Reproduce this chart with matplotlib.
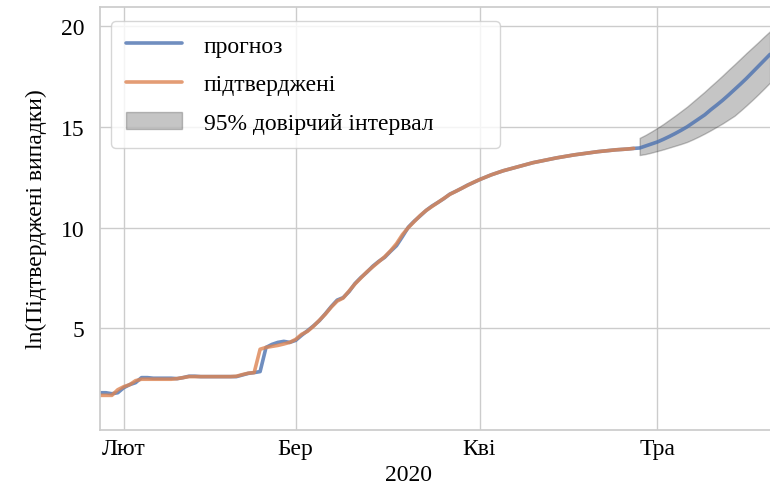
import matplotlib
matplotlib.use('Agg')
import matplotlib.pyplot as plt
import numpy as np
import pandas as pd
import seaborn as sns

sns.set_theme(style='whitegrid')
plt.rcParams['font.family'] = ['Liberation Serif', 'DejaVu Serif']
plt.rcParams['text.color'] = 'black'
plt.rcParams['axes.labelcolor'] = 'black'
plt.rcParams['xtick.color'] = 'black'
plt.rcParams['ytick.color'] = 'black'

# ln of confirmed cases, daily from 28 Jan 2020
confirmed = [1.67, 1.67, 1.67, 1.95, 2.10, 2.20, 2.40, 2.47, 2.47, 2.47,
             2.47, 2.47, 2.47, 2.50, 2.55, 2.60, 2.60, 2.60, 2.60, 2.60,
             2.60, 2.60, 2.60, 2.62, 2.70, 2.77, 2.80, 3.96, 4.05, 4.10,
             4.15, 4.22, 4.30, 4.45, 4.70, 4.85, 5.10, 5.40, 5.70, 6.05,
             6.35, 6.50, 6.85, 7.20, 7.50, 7.80, 8.05, 8.30, 8.55, 8.85,
             9.20, 9.65, 10.00, 10.30, 10.60, 10.85, 11.05, 11.25, 11.45, 11.65,
             11.80, 11.95, 12.10, 12.25, 12.38, 12.50, 12.62, 12.72, 12.82, 12.90,
             12.98, 13.06, 13.14, 13.22, 13.28, 13.34, 13.40, 13.46, 13.51, 13.56,
             13.61, 13.65, 13.69, 13.73, 13.77, 13.80, 13.83, 13.86, 13.88, 13.90,
             13.93]

# model output: in-sample fit followed by the out-of-sample forecast
fitted = [1.80, 1.80, 1.75, 1.80, 2.05, 2.20, 2.30, 2.55, 2.55, 2.52,
          2.52, 2.52, 2.52, 2.50, 2.55, 2.62, 2.62, 2.60, 2.60, 2.60,
          2.60, 2.60, 2.60, 2.60, 2.68, 2.76, 2.80, 2.85, 4.05, 4.20,
          4.30, 4.35, 4.30, 4.40, 4.65, 4.88, 5.12, 5.38, 5.72, 6.08,
          6.40, 6.52, 6.82, 7.22, 7.52, 7.78, 8.08, 8.32, 8.52, 8.82,
          9.10, 9.55, 10.02, 10.32, 10.58, 10.85, 11.07, 11.25, 11.44, 11.66,
          11.80, 11.95, 12.11, 12.24, 12.38, 12.50, 12.62, 12.72, 12.82, 12.90,
          12.98, 13.06, 13.14, 13.22, 13.28, 13.34, 13.40, 13.46, 13.51, 13.56,
          13.61, 13.65, 13.69, 13.73, 13.77, 13.80, 13.83, 13.86, 13.88, 13.90,
          13.93]
forecast = [13.95, 14.05, 14.15, 14.25, 14.38, 14.52, 14.67, 14.83, 15.00, 15.20,
            15.40, 15.60, 15.85, 16.08, 16.32, 16.58, 16.85, 17.12, 17.40, 17.70,
            18.00, 18.30, 18.60]
ci_upper = [14.45, 14.60, 14.77, 14.95, 15.14, 15.35, 15.56, 15.78, 16.00, 16.25,
            16.50, 16.75, 17.02, 17.28, 17.55, 17.83, 18.10, 18.38, 18.66, 18.93,
            19.20, 19.48, 19.75]
ci_lower = [13.60, 13.65, 13.72, 13.80, 13.88, 13.97, 14.06, 14.15, 14.25, 14.38,
            14.52, 14.67, 14.83, 15.00, 15.17, 15.36, 15.55, 15.80, 16.06, 16.33,
            16.61, 16.90, 17.20]

month_labels = ['Лют', 'Бер', 'Кві', 'Тра']

dates = pd.date_range('2020-01-28', periods=len(fitted) + len(forecast), freq='D')
obs_dates = dates[:len(confirmed)]
fc_dates = dates[len(fitted):]
pred = fitted + forecast

fig = plt.figure(figsize=(7.7, 4.89), dpi=100)
ax = fig.add_axes([100 / 770, 58 / 489, 676 / 770, 423 / 489])

ax.plot(dates, pred, color='#4C72B0', lw=2.6, alpha=0.8, label='прогноз')
ax.plot(obs_dates, confirmed, color='#DD8452', lw=2.6, alpha=0.8, label='підтверджені')
ax.fill_between(fc_dates, ci_lower, ci_upper, color='k', alpha=0.25,
                label='95% довірчий інтервал')

ax.set_xlim(dates[0], dates[0] + pd.Timedelta(days=114))
ax.set_ylim(-0.05, 20.95)
ax.set_yticks([5, 10, 15, 20])
ticks = pd.date_range('2020-02-01', periods=4, freq='MS')
ax.set_xticks(ticks)
ax.set_xticklabels(month_labels)
ax.tick_params(labelsize=17)
ax.tick_params(axis='x', pad=-0.5)
ax.tick_params(axis='y', pad=5)
ax.set_xlabel('2020', fontsize=17, labelpad=4, x=0.456, ha='center')
ax.set_ylabel('ln(Підтверджені випадки)', fontsize=17, labelpad=10)

ax.legend(loc='upper left', mode='expand', fontsize=17, borderpad=0.6,
          labelspacing=0.72, handlelength=2.4, handletextpad=0.9,
          borderaxespad=0, bbox_to_anchor=(0.017, 0.669, 0.574, 0.298))

fig.savefig('out.png', dpi=100)
